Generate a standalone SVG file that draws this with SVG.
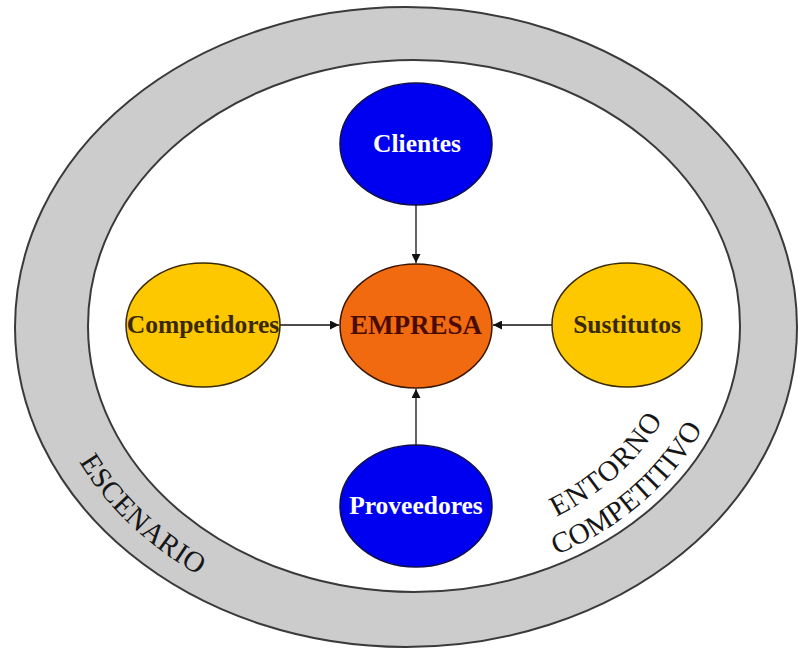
<svg xmlns="http://www.w3.org/2000/svg" width="798" height="650" viewBox="0 0 798 650">
<style>
.ring{fill:#cccccc;stroke:#3a3a3a;stroke-width:2}
.inner{fill:#ffffff;stroke:#3a3a3a;stroke-width:2}
.blue{fill:#0000f0;stroke:#10104a;stroke-width:1.5}
.yellow{fill:#fdc800;stroke:#3a2a00;stroke-width:1.5}
.orange{fill:#f26a0f;stroke:#3a1500;stroke-width:1.5}
.lbl{font-family:"Liberation Serif","Times New Roman",serif;font-weight:bold;text-anchor:middle}
.w{fill:#ffffff;font-size:25.5px}
.d{fill:#3a2800;font-size:25.5px}
.e{fill:#4a0c00;font-size:27px}
.ring-t{font-family:"Liberation Serif","Times New Roman",serif;font-size:29px;fill:#161616}
.conn{stroke:#111111;stroke-width:1.3;fill:none;marker-end:url(#ah)}
</style>
<defs>
<marker id="ah" viewBox="0 0 10 10" refX="10" refY="5" markerWidth="9" markerHeight="9" markerUnits="userSpaceOnUse" orient="auto">
<path d="M0,0 L10,5 L0,10 z" fill="#111111"/>
</marker>
<path id="pEsc" d="M 40 326 A 368 303 0 0 0 408 629"/>
<path id="pEnt" d="M 414 549.4 A 273.8 223.4 0 0 0 687.8 326"/>
<path id="pComp" d="M 414 582.7 A 314.6 256.7 0 0 0 728.6 326"/>
</defs>
<rect width="798" height="650" fill="#ffffff"/>
<g id="escenario">
<ellipse class="ring" cx="406" cy="327" rx="391" ry="320"/>
<text class="ring-t"><textPath href="#pEsc" startOffset="143" textLength="166" lengthAdjust="spacing">ESCENARIO</textPath></text>
</g>
<g id="entorno">
<ellipse class="inner" cx="414" cy="326" rx="326" ry="266"/>
<text class="ring-t"><textPath href="#pEnt" startOffset="147" textLength="146" lengthAdjust="spacing">ENTORNO</textPath></text>
<text class="ring-t"><textPath href="#pComp" startOffset="146" textLength="197" lengthAdjust="spacing">COMPETITIVO</textPath></text>
</g>
<g id="connectors">
<line class="conn" x1="416" y1="205" x2="416" y2="263"/>
<line class="conn" x1="280" y1="325" x2="339" y2="325"/>
<line class="conn" x1="552" y1="325" x2="493" y2="325"/>
<line class="conn" x1="416" y1="445" x2="416" y2="389"/>
</g>
<g id="clientes">
<ellipse class="blue" cx="416" cy="144" rx="76" ry="61"/>
<text class="lbl w" x="417" y="152">Clientes</text>
</g>
<g id="empresa">
<ellipse class="orange" cx="416" cy="326" rx="76" ry="62"/>
<text class="lbl e" x="416" y="334">EMPRESA</text>
</g>
<g id="competidores">
<ellipse class="yellow" cx="203" cy="325" rx="77" ry="62"/>
<text class="lbl d" x="203" y="333">Competidores</text>
</g>
<g id="sustitutos">
<ellipse class="yellow" cx="627" cy="325" rx="75" ry="62"/>
<text class="lbl d" x="627" y="333">Sustitutos</text>
</g>
<g id="proveedores">
<ellipse class="blue" cx="416" cy="506" rx="76" ry="61"/>
<text class="lbl w" x="416" y="514">Proveedores</text>
</g>
</svg>
